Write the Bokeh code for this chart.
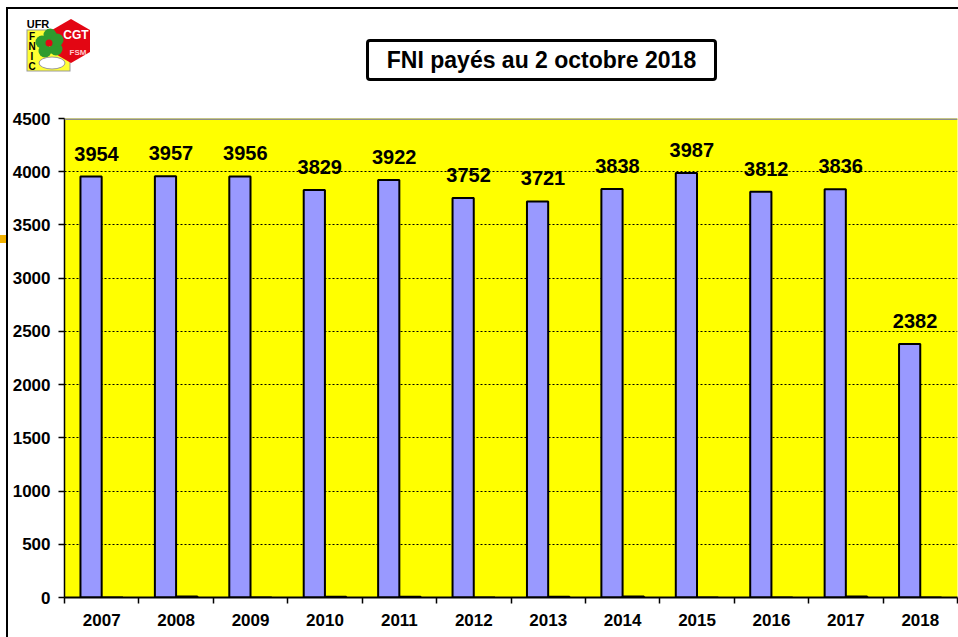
from bokeh.plotting import figure
from bokeh.layouts import column, row
from bokeh.models import (Range1d, FixedTicker, Span, ColumnDataSource, Div)
from bokeh.transform import dodge
from bokeh.core.properties import value
from bokeh.embed import file_html
from bokeh.resources import INLINE

# ---- data ----
years = ["2007", "2008", "2009", "2010", "2011", "2012",
         "2013", "2014", "2015", "2016", "2017", "2018"]
paid = [3954, 3957, 3956, 3829, 3922, 3752, 3721, 3838, 3987, 3812, 3836, 2382]
second = [0, 10, 0, 6, 8, 0, 8, 10, 0, 0, 10, 0]
y_ticks = [0, 500, 1000, 1500, 2000, 2500, 3000, 3500, 4000, 4500]
title_text = "FNI payés au 2 octobre 2018"

W, H = 958, 637
TOP_H = 105
STRIP_W = 8
FONT = "Liberation Sans"
CH = H - TOP_H

# ---------- top band (page frame, logo, boxed title) ----------
logo_svg = (
    '<svg style="position:absolute;left:0;top:0" width="100" height="80" '
    'xmlns="http://www.w3.org/2000/svg">'
    '<rect x="27" y="30" width="43" height="41" fill="#FFFF33" stroke="#999" stroke-width="1"/>'
    '<polygon points="71,19 90,30 90,52 71,63 52,52 52,30" fill="#E30613"/>'
    '<circle cx="50" cy="35" r="6.5" fill="#2E9B2E"/>'
    '<circle cx="42" cy="42" r="6.5" fill="#2E9B2E"/>'
    '<circle cx="45" cy="51" r="6.5" fill="#2E9B2E"/>'
    '<circle cx="56" cy="49" r="6.5" fill="#2E9B2E"/>'
    '<circle cx="57" cy="40" r="6.5" fill="#2E9B2E"/>'
    '<circle cx="49" cy="43" r="3.5" fill="#E30613"/>'
    '<ellipse cx="52" cy="63" rx="13" ry="6" fill="white" stroke="#999" stroke-width="1"/>'
    f'<g font-family="{FONT}" font-weight="bold" text-anchor="middle">'
    '<text x="38" y="28" font-size="11" fill="black">UFR</text>'
    '<text x="32" y="40" font-size="10" fill="black">F</text>'
    '<text x="32" y="50" font-size="10" fill="black">N</text>'
    '<text x="32" y="60" font-size="10" fill="black">I</text>'
    '<text x="32" y="70" font-size="10" fill="black">C</text>'
    '<text x="76" y="39" font-size="12" fill="white">CGT</text>'
    '<text x="78" y="55" font-size="8" fill="#FFCCCC">FSM</text>'
    '</g></svg>'
)
top_html = (
    f'<div style="position:relative;width:{W}px;height:{TOP_H}px;background:white;'
    f'overflow:hidden;margin:0;padding:0;box-sizing:border-box;">'
    f'<div style="position:absolute;left:6px;top:7px;width:{W - 6}px;height:{TOP_H - 7}px;'
    f'border-top:2px solid black;border-left:2px solid black;box-sizing:border-box;"></div>'
    + logo_svg +
    f'<div style="position:absolute;left:366px;top:39px;width:351px;height:42px;'
    f'box-sizing:border-box;border:3.5px solid black;border-radius:4px;display:flex;'
    f'align-items:center;justify-content:center;font-family:\'{FONT}\';font-weight:bold;'
    f'font-size:23px;color:black;background:white;white-space:nowrap;">{title_text}</div>'
    '</div>'
)
top = Div(text=top_html, width=W, height=TOP_H, margin=0)

strip_html = (
    f'<div style="position:relative;width:{STRIP_W}px;height:{CH}px;background:white;'
    f'overflow:hidden;margin:0;padding:0;">'
    f'<div style="position:absolute;left:6px;top:0;width:2px;height:{CH}px;background:black"></div>'
    f'<div style="position:absolute;left:0;top:{235 - TOP_H}px;width:6px;height:8px;background:#F2B200"></div>'
    '</div>'
)
strip = Div(text=strip_html, width=STRIP_W, height=CH, margin=0)

# ---------- chart ----------
centers = [i + 0.5 for i in range(len(years))]
bounds = [i for i in range(len(years) + 1)]

p = figure(width=W - STRIP_W, height=CH, x_range=Range1d(0, len(years)),
           y_range=Range1d(y_ticks[0], y_ticks[-1]), title=None,
           output_backend="svg", toolbar_location=None,
           min_border_left=64 - STRIP_W, min_border_right=1,
           min_border_top=118 - TOP_H, min_border_bottom=40, margin=0)
p.background_fill_color = "#FFFF00"
p.border_fill_color = "white"
p.outline_line_color = None

src = ColumnDataSource(dict(x=centers, paid=paid, second=second,
                            label=[str(v) for v in paid]))
p.vbar(x=dodge("x", -0.143, range=p.x_range), top="paid", width=0.285, bottom=0,
       source=src, fill_color="#9999FF", line_color="black", line_width=2)
p.vbar(x=dodge("x", 0.143, range=p.x_range), top="second", width=0.285, bottom=0,
       source=src, fill_color="black", line_color="black", line_width=2)
p.text(x=dodge("x", -0.07, range=p.x_range), y="paid", text="label", source=src,
       text_font=value(FONT), text_font_style="bold", text_font_size="20px",
       text_align="center", text_baseline="middle", y_offset=-23,
       text_color="black")

xa = p.xaxis[0]
xa.ticker = FixedTicker(ticks=centers, minor_ticks=bounds)
xa.major_label_overrides = {c: y for c, y in zip(centers, years)}
xa.major_tick_out = 0
xa.major_tick_in = 0
xa.minor_tick_out = 6
xa.minor_tick_in = 0
xa.minor_tick_line_color = "black"
xa.minor_tick_line_width = 1.5
xa.axis_line_color = "black"
xa.axis_line_width = 2
xa.major_label_text_font = FONT
xa.major_label_text_font_style = "bold"
xa.major_label_text_font_size = "17px"
xa.major_label_text_color = "black"
xa.major_label_standoff = 10

ya = p.yaxis[0]
ya.ticker = FixedTicker(ticks=y_ticks)
ya.minor_tick_line_color = None
ya.major_tick_out = 6
ya.major_tick_in = 0
ya.major_tick_line_color = "black"
ya.major_tick_line_width = 1.5
ya.axis_line_color = "black"
ya.axis_line_width = 1.5
ya.major_label_text_font = FONT
ya.major_label_text_font_style = "bold"
ya.major_label_text_font_size = "17px"
ya.major_label_text_color = "black"
ya.major_label_standoff = 8

p.xgrid.grid_line_color = None
p.ygrid.ticker = FixedTicker(ticks=y_ticks[1:-1])
p.ygrid.grid_line_color = "black"
p.ygrid.grid_line_dash = "2 2"
p.ygrid.grid_line_width = 1

p.add_layout(Span(location=y_ticks[-1], dimension="width", line_color="#8c8c8c",
                  line_width=3))

layout = column(top, row(strip, p, spacing=0), spacing=0)
open("out.html", "w").write(file_html(layout, INLINE))
